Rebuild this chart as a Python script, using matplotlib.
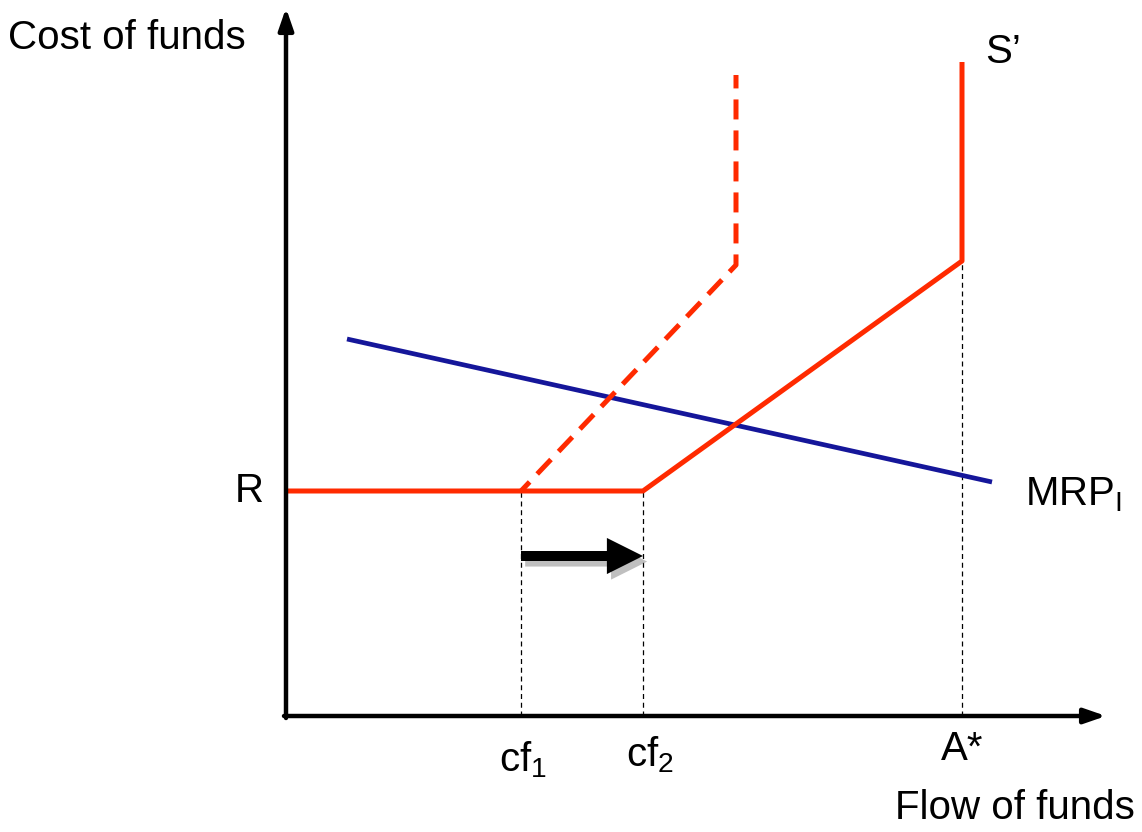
import matplotlib.pyplot as plt
import matplotlib.patheffects as pe

plt.rcParams['font.family'] = ['Liberation Sans', 'DejaVu Sans']

# positions on the flow-of-funds axis
cf1 = 235
cf2 = 357
a_star = 676
R = 225

# supply curve S' (solid) and the earlier supply curve (dashed)
s_new_x = [0, cf2, a_star, a_star]
s_new_y = [R, R, 455, 654]
s_old_x = [cf1, 450, 450]
s_old_y = [R, 451, 641]

# MRP_I demand line
mrp_x = [61, 706]
mrp_y = [377, 234]

RED = '#ff2a00'
BLUE = '#15169a'

fig = plt.figure(figsize=(11.42, 8.32), dpi=100)
ax = fig.add_axes([0, 0, 1, 1])
ax.set_xlim(-286, 856)
ax.set_ylim(-116, 716)
ax.axis('off')

# guide lines
for x, top in [(cf1, R), (cf2, R), (a_star, 455)]:
    ax.plot([x, x], [0, top], color='black', lw=0.9, ls=(0, (4, 3)), zorder=1)

ax.plot(mrp_x, mrp_y, color=BLUE, lw=3.4, solid_capstyle='butt', zorder=2)
ax.plot(s_old_x, s_old_y, color=RED, lw=3.6, ls=(1.5, (4, 2.2)), zorder=3)
ax.plot(s_new_x, s_new_y, color=RED, lw=3.6, solid_capstyle='butt', zorder=3)

# axes with arrowheads
ax.annotate('', xy=(0, 708), xytext=(0, -2),
            arrowprops=dict(arrowstyle='-|>,head_length=1.3,head_width=0.45',
                            color='black', lw=3.2, shrinkA=0, shrinkB=0))
ax.annotate('', xy=(820, 0), xytext=(-2, 0),
            arrowprops=dict(arrowstyle='-|>,head_length=1.3,head_width=0.45',
                            color='black', lw=3.2, shrinkA=0, shrinkB=0))

# shift arrow
ax.annotate('', xy=(cf2, 160), xytext=(cf1, 160),
            arrowprops=dict(arrowstyle='simple,head_length=1.3,head_width=1.3,tail_width=0.36',
                            mutation_scale=20,
                            color='black', lw=0, shrinkA=0, shrinkB=0,
                            path_effects=[pe.SimplePatchShadow(offset=(3, -4), shadow_rgbFace='gray', alpha=0.5),
                                          pe.Normal()]))

fs = 29
ax.text(-278, 678, 'Cost of funds', fontsize=fs, ha='left', va='center')
ax.text(849, -92, 'Flow of funds', fontsize=fs, ha='right', va='center')
ax.text(-22, R, 'R', fontsize=fs, ha='right', va='center')
ax.text(739, 221, r'MRP$_\mathregular{I}$', fontsize=fs, ha='left', va='center')
ax.text(699, 664, 'S\u2019', fontsize=fs, ha='left', va='center')
ax.text(cf1 + 2, -44, r'cf$_\mathregular{1}$', fontsize=fs, ha='center', va='center')
ax.text(cf2 + 7, -39, r'cf$_\mathregular{2}$', fontsize=fs, ha='center', va='center')
ax.text(a_star, -33, 'A*', fontsize=fs, ha='center', va='center')

fig.savefig('out.png', dpi=100)
